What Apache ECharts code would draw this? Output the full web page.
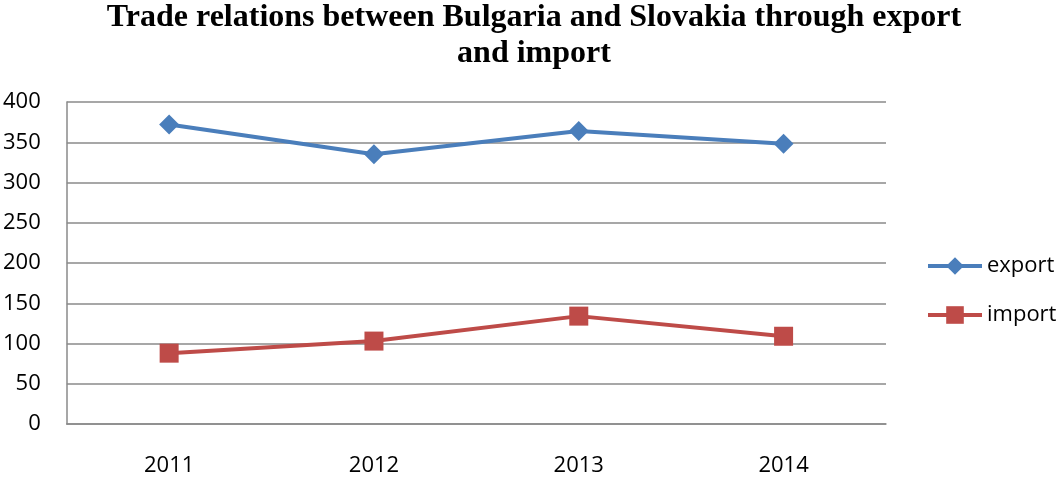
<!DOCTYPE html>
<html>
<head>
<meta charset="utf-8">
<script src="https://cdn.jsdelivr.net/npm/echarts@6/dist/echarts.min.js"></script>
<style>
  html, body { margin: 0; padding: 0; background: #fff; }
  #chart { width: 1060px; height: 481px; }
</style>
</head>
<body>
<div id="chart"></div>
<script>
const years = ['2011', '2012', '2013', '2014']
const exportValues = [372, 335, 364, 348]
const importValues = [88, 103, 134, 109]

const chart = echarts.init(document.getElementById('chart'))

const labelFont = { color: '#000', fontSize: 22, fontFamily: 'Open Sans' }
const gridColor = '#8a8a8a'

chart.setOption({
  animation: false,
  title: {
    text: 'Trade relations between Bulgaria and Slovakia through export\nand import',
    left: 529,
    textAlign: 'center',
    top: -5,
    textStyle: {
      fontFamily: 'Liberation Serif',
      fontWeight: 'bold',
      fontSize: 32,
      lineHeight: 36,
      color: '#000',
    },
  },
  legend: {
    orient: 'vertical',
    left: 926,
    top: 255,
    padding: 0,
    itemWidth: 54,
    itemHeight: 22,
    itemGap: 27,
    lineStyle: { width: 4 },
    textStyle: { ...labelFont },
    data: ['export', 'import'],
  },
  grid: { left: 66, right: 174, top: 102, bottom: 57 },
  xAxis: {
    type: 'category',
    data: years,
    axisLine: { lineStyle: { color: gridColor, width: 1.5 } },
    axisTick: { show: false },
    axisLabel: { ...labelFont, margin: 31 },
  },
  yAxis: {
    type: 'value',
    min: 0,
    max: 400,
    interval: 50,
    axisLine: { show: true, lineStyle: { color: gridColor, width: 1.5 } },
    axisTick: { show: false },
    splitLine: { lineStyle: { color: gridColor, width: 1.5 } },
    axisLabel: { ...labelFont, margin: 26 },
  },
  series: [
    {
      name: 'export',
      type: 'line',
      data: exportValues,
      symbol: 'diamond',
      symbolSize: 20,
      lineStyle: { color: '#4a7ebb', width: 4 },
      itemStyle: { color: '#4a7ebb' },
    },
    {
      name: 'import',
      type: 'line',
      data: importValues,
      symbol: 'rect',
      symbolSize: 19,
      lineStyle: { color: '#be4b48', width: 4 },
      itemStyle: { color: '#be4b48' },
    },
  ],
})
</script>
</body>
</html>
